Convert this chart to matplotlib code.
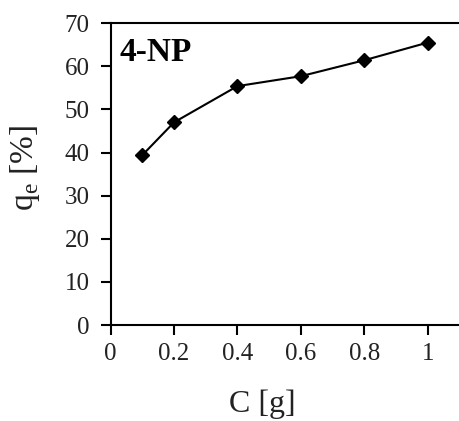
import matplotlib
matplotlib.use("Agg")
import matplotlib.pyplot as plt

# data
dose = [0.1, 0.2, 0.4, 0.6, 0.8, 1.0]
qe = [39.4, 47.0, 55.4, 57.7, 61.4, 65.5]
xticks = [0, 0.2, 0.4, 0.6, 0.8, 1]
xticklabels = ["0", "0.2", "0.4", "0.6", "0.8", "1"]
yticks = [0, 10, 20, 30, 40, 50, 60, 70]

plt.rcParams['font.family'] = ['Liberation Serif', 'DejaVu Serif']
plt.rcParams['mathtext.fontset'] = 'custom'
plt.rcParams['mathtext.rm'] = 'Liberation Serif'

fig = plt.figure(figsize=(4.59, 4.21), dpi=100)
ax = fig.add_axes([0.241, 0.228, 0.76, 0.717])

ax.plot(dose, qe, color='black', lw=1.5, marker='D', ms=7, mec='black', mfc='black')

ax.set_xlim(0, 1.1)
ax.set_ylim(0, 70)
ax.set_xticks(xticks)
ax.set_xticklabels(xticklabels)
ax.set_yticks(yticks)
ax.tick_params(direction='out', length=7, width=1.5, labelsize=18, labelcolor='#222222')
ax.tick_params(axis='x', pad=6)
ax.tick_params(axis='y', pad=8)
for s in ['left', 'bottom', 'top']:
    ax.spines[s].set_linewidth(1.5)
ax.spines['right'].set_visible(False)

ax.set_xlabel("C [g]", fontsize=23, color='#222222')
ax.set_ylabel(r"q$_\mathrm{e}$ [%]", fontsize=24, color='#222222')
ax.xaxis.set_label_coords(0.434, -0.215)
ax.yaxis.set_label_coords(-0.197, 0.52)
ax.text(0.025, 0.955, "4-NP", transform=ax.transAxes, fontsize=24,
        fontweight='bold', va='top', ha='left')

fig.savefig("out.png", dpi=100)
